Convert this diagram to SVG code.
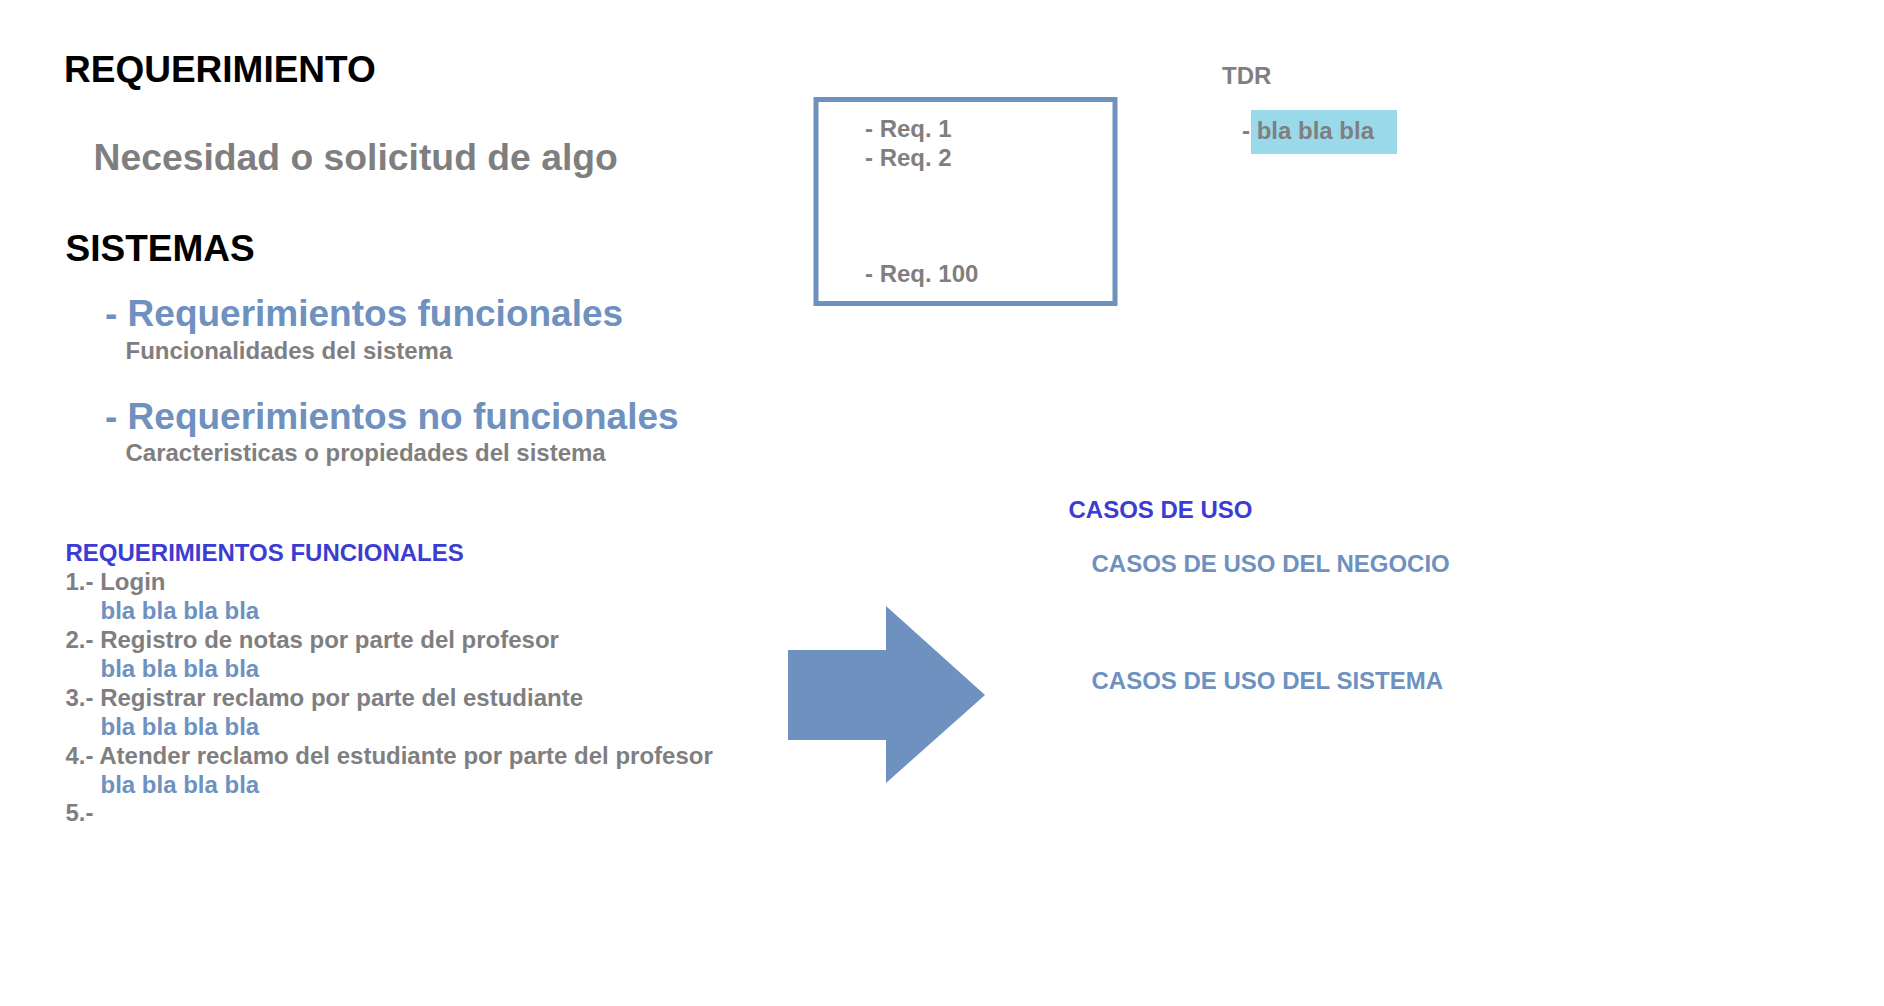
<svg xmlns="http://www.w3.org/2000/svg" width="1884" height="1006" viewBox="0 0 1884 1006">
<style>
text{font-family:"Liberation Sans",Arial,sans-serif;font-weight:bold}
.h{font-size:37px;fill:#000}
.g{fill:#7F7F7F}
.b{fill:#6E91C0}
.v{fill:#3C3CD2}
.s24{font-size:24px}
.s37{font-size:37px}
</style>
<rect width="1884" height="1006" fill="#fff"/>
<g id="requerimiento">
<text class="h" x="64" y="82">REQUERIMIENTO</text>
<text class="g" x="93.5" y="169.5" style="font-size:37.3px">Necesidad o solicitud de algo</text>
</g>
<g id="sistemas">
<text class="h" x="65.5" y="261">SISTEMAS</text>
<text class="b s37" x="105" y="326">- Requerimientos funcionales</text>
<text class="g s24" x="125.5" y="359">Funcionalidades del sistema</text>
<text class="b s37" x="105" y="429">- Requerimientos no funcionales</text>
<text class="g s24" x="125.5" y="461">Caracteristicas o propiedades del sistema</text>
</g>
<g id="req-box">
<rect x="816" y="99.5" width="299" height="204" fill="none" stroke="#6E91C0" stroke-width="5"/>
<text class="g s24" x="865" y="136.5">- Req. 1</text>
<text class="g s24" x="865" y="166">- Req. 2</text>
<text class="g s24" x="865" y="282">- Req. 100</text>
</g>
<g id="tdr">
<text class="g s24" x="1222" y="84">TDR</text>
<rect x="1251" y="110" width="146" height="44" fill="#99D9EA"/>
<text class="g s24" x="1242" y="139">- bla bla bla</text>
</g>
<g id="req-funcionales">
<text class="v s24" x="65.5" y="561">REQUERIMIENTOS FUNCIONALES</text>
<text class="g s24" x="65.5" y="590">1.- Login</text>
<text class="b s24" x="100.5" y="618.5">bla bla bla bla</text>
<text class="g s24" x="65.5" y="647.5">2.- Registro de notas por parte del profesor</text>
<text class="b s24" x="100.5" y="676.5">bla bla bla bla</text>
<text class="g s24" x="65.5" y="705.5">3.- Registrar reclamo por parte del estudiante</text>
<text class="b s24" x="100.5" y="734.5">bla bla bla bla</text>
<text class="g s24" x="65.5" y="763.5">4.- Atender reclamo del estudiante por parte del profesor</text>
<text class="b s24" x="100.5" y="792.5">bla bla bla bla</text>
<text class="g s24" x="65.5" y="821">5.-</text>
</g>
<g id="connectors">
<polygon points="788,650 886,650 886,606 985,695 886,783 886,740 788,740" fill="#6E91C0"/>
</g>
<g id="casos-de-uso">
<text class="v s24" x="1068.5" y="518">CASOS DE USO</text>
<text class="b s24" x="1091.5" y="572">CASOS DE USO DEL NEGOCIO</text>
<text class="b s24" x="1091.5" y="689">CASOS DE USO DEL SISTEMA</text>
</g>
</svg>
